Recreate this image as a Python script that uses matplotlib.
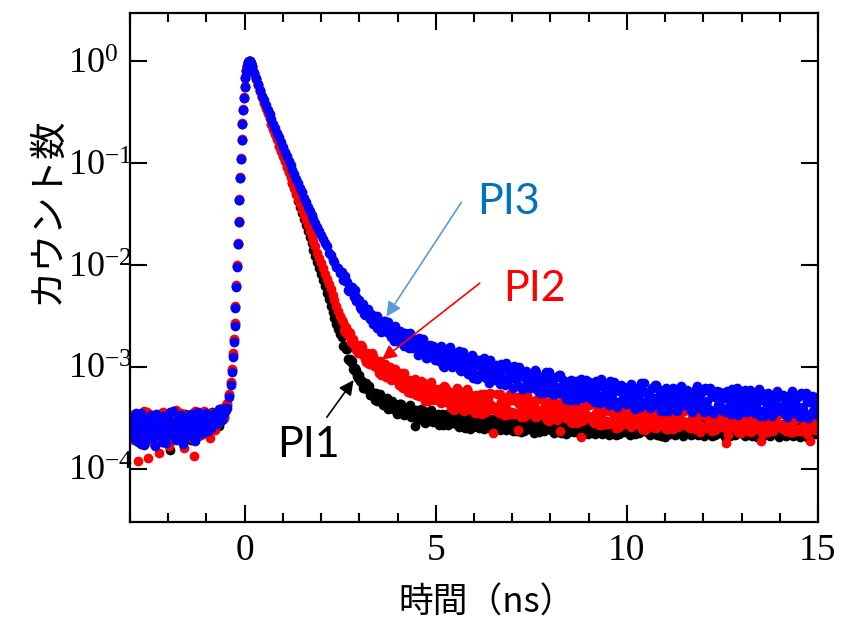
import numpy as np
import matplotlib
matplotlib.use("Agg")
import matplotlib.pyplot as plt
from matplotlib.ticker import NullLocator, MultipleLocator

plt.rcParams['mathtext.fontset'] = 'custom'
plt.rcParams['mathtext.rm'] = 'Liberation Serif'
plt.rcParams['mathtext.it'] = 'Liberation Serif:italic'
plt.rcParams['font.family'] = ['Liberation Serif', 'DejaVu Sans']

# ---------------- data (log10 of normalised counts) ----------------
# time bins (ns); two interleaved sets of readings in the noisy regions
t_base = np.round(np.arange(-3.0, -0.499, 0.05), 3)          # 51 bins
t_base2 = np.round(np.arange(-2.975, -0.51, 0.05), 3)        # 50 bins
t_rise = [-0.45, -0.40, -0.36, -0.33, -0.30, -0.28, -0.26, -0.24, -0.22, -0.20,
          -0.18, -0.16, -0.14, -0.12, -0.10, -0.08, -0.06, -0.04, -0.02, 0.00,
          0.02, 0.04, 0.06, 0.08, 0.10, 0.12, 0.14, 0.16, 0.18, 0.20]
t_decay = np.round(np.arange(0.25, 2.501, 0.05), 3)          # 46 bins
t_tail = np.round(np.arange(2.55, 15.001, 0.05), 3)          # 250 bins
t_tail2 = np.round(np.arange(2.575, 15.03, 0.05), 3)         # 250 bins

# ---- PI1 (black) ----
pi1_base = [-3.57, -3.65, -3.49, -3.70, -3.58, -3.52, -3.76, -3.61, -3.54, -3.66,
            -3.47, -3.63, -3.59, -3.71, -3.50, -3.64, -3.56, -3.45, -3.68, -3.60,
            -3.53, -3.82, -3.58, -3.48, -3.66, -3.62, -3.51, -3.69, -3.57, -3.46,
            -3.63, -3.55, -3.72, -3.59, -3.49, -3.61, -3.67, -3.53, -3.47, -3.58,
            -3.64, -3.50, -3.56, -3.44, -3.60, -3.52, -3.47, -3.54, -3.45, -3.49,
            -3.41]
pi1_base2 = [-3.61, -3.53, -3.67, -3.48, -3.62, -3.57, -3.72, -3.51, -3.64, -3.55,
             -3.69, -3.58, -3.50, -3.66, -3.54, -3.61, -3.47, -3.74, -3.56, -3.63,
             -3.52, -3.59, -3.67, -3.49, -3.61, -3.55, -3.70, -3.53, -3.60, -3.64,
             -3.51, -3.58, -3.46, -3.63, -3.55, -3.68, -3.50, -3.59, -3.62, -3.48,
             -3.57, -3.52, -3.61, -3.46, -3.55, -3.50, -3.58, -3.45, -3.51, -3.43]
pi1_rise = [-3.38, -3.28, -3.16, -3.03, -2.88, -2.74, -2.58, -2.41, -2.21, -2.01,
            -1.80, -1.58, -1.36, -1.15, -0.96, -0.78, -0.62, -0.48, -0.36, -0.26,
            -0.17, -0.10, -0.05, -0.02, -0.01, 0.00, 0.00, -0.02, -0.05, -0.08]
pi1_decay = [-0.12, -0.18, -0.24, -0.30, -0.35, -0.41, -0.46, -0.51, -0.56, -0.62,
             -0.67, -0.72, -0.77, -0.83, -0.88, -0.93, -0.98, -1.04, -1.09, -1.14,
             -1.20, -1.25, -1.31, -1.37, -1.43, -1.49, -1.55, -1.61, -1.67, -1.73,
             -1.79, -1.85, -1.91, -1.97, -2.03, -2.09, -2.15, -2.21, -2.28, -2.34,
             -2.40, -2.46, -2.52, -2.58, -2.63, -2.68]
pi1_tail = [-2.71, -2.80, -2.83, -2.92, -2.92, -2.94, -3.03, -3.05, -3.09, -3.08,
            -3.13, -3.21, -3.16, -3.22, -3.19, -3.28, -3.27, -3.33, -3.28, -3.33,
            -3.27, -3.33, -3.38, -3.32, -3.41, -3.36, -3.34, -3.41, -3.39, -3.44,
            -3.43, -3.37, -3.46, -3.42, -3.44, -3.41, -3.49, -3.43, -3.58, -3.50,
            -3.50, -3.45, -3.47, -3.43, -3.50, -3.53, -3.45, -3.47, -3.50, -3.47,
            -3.46, -3.53, -3.50, -3.57, -3.49, -3.46, -3.56, -3.52, -3.54, -3.48,
            -3.52, -3.59, -3.48, -3.54, -3.47, -3.58, -3.54, -3.61, -3.51, -3.56,
            -3.49, -3.56, -3.59, -3.51, -3.61, -3.54, -3.50, -3.57, -3.54, -3.59,
            -3.58, -3.50, -3.61, -3.55, -3.57, -3.52, -3.62, -3.53, -3.49, -3.60,
            -3.62, -3.63, -3.57, -3.51, -3.60, -3.63, -3.52, -3.55, -3.58, -3.53,
            -3.54, -3.61, -3.57, -3.64, -3.56, -3.52, -3.62, -3.58, -3.59, -3.53,
            -3.58, -3.65, -3.54, -3.60, -3.53, -3.63, -3.59, -3.66, -3.56, -3.61,
            -3.53, -3.60, -3.63, -3.55, -3.65, -3.58, -3.54, -3.61, -3.58, -3.63,
            -3.62, -3.54, -3.65, -3.59, -3.61, -3.56, -3.66, -3.57, -3.53, -3.64,
            -3.65, -3.57, -3.60, -3.54, -3.63, -3.66, -3.55, -3.58, -3.61, -3.56,
            -3.56, -3.63, -3.59, -3.66, -3.58, -3.54, -3.64, -3.60, -3.61, -3.55,
            -3.60, -3.67, -3.56, -3.62, -3.55, -3.65, -3.61, -3.68, -3.58, -3.69,
            -3.55, -3.62, -3.65, -3.57, -3.67, -3.60, -3.56, -3.63, -3.60, -3.65,
            -3.63, -3.55, -3.66, -3.60, -3.62, -3.57, -3.67, -3.58, -3.54, -3.65,
            -3.66, -3.58, -3.61, -3.55, -3.64, -3.67, -3.56, -3.59, -3.62, -3.57,
            -3.58, -3.65, -3.61, -3.68, -3.60, -3.56, -3.66, -3.62, -3.63, -3.57,
            -3.61, -3.68, -3.57, -3.63, -3.56, -3.66, -3.62, -3.69, -3.59, -3.64,
            -3.56, -3.63, -3.66, -3.58, -3.68, -3.61, -3.57, -3.64, -3.61, -3.66,
            -3.64, -3.56, -3.67, -3.61, -3.63, -3.58, -3.68, -3.59, -3.55, -3.66,
            -3.67, -3.59, -3.62, -3.56, -3.65, -3.68, -3.57, -3.60, -3.63, -3.58]
pi1_tail2 = [-2.80, -2.80, -2.83, -2.93, -2.95, -3.02, -3.01, -3.03, -3.11, -3.14,
             -3.16, -3.21, -3.16, -3.21, -3.28, -3.25, -3.29, -3.26, -3.34, -3.29,
             -3.31, -3.38, -3.36, -3.31, -3.40, -3.35, -3.41, -3.40, -3.46, -3.37,
             -3.37, -3.42, -3.47, -3.41, -3.45, -3.38, -3.48, -3.46, -3.42, -3.52,
             -3.50, -3.41, -3.46, -3.55, -3.45, -3.51, -3.42, -3.54, -3.48, -3.53,
             -3.57, -3.49, -3.46, -3.54, -3.51, -3.57, -3.48, -3.46, -3.54, -3.56,
             -3.56, -3.58, -3.48, -3.52, -3.60, -3.53, -3.57, -3.50, -3.59, -3.51,
             -3.52, -3.60, -3.56, -3.49, -3.59, -3.51, -3.57, -3.55, -3.62, -3.50,
             -3.51, -3.56, -3.62, -3.53, -3.58, -3.49, -3.60, -3.57, -3.53, -3.63,
             -3.61, -3.52, -3.56, -3.64, -3.54, -3.59, -3.50, -3.61, -3.55, -3.60,
             -3.65, -3.56, -3.53, -3.61, -3.58, -3.63, -3.55, -3.52, -3.60, -3.62,
             -3.61, -3.63, -3.53, -3.57, -3.65, -3.58, -3.62, -3.55, -3.64, -3.56,
             -3.56, -3.64, -3.60, -3.53, -3.63, -3.55, -3.61, -3.59, -3.66, -3.54,
             -3.55, -3.60, -3.66, -3.57, -3.62, -3.53, -3.64, -3.61, -3.57, -3.67,
             -3.64, -3.55, -3.59, -3.67, -3.57, -3.62, -3.53, -3.64, -3.58, -3.63,
             -3.67, -3.58, -3.55, -3.63, -3.60, -3.65, -3.57, -3.54, -3.62, -3.64,
             -3.63, -3.65, -3.55, -3.59, -3.67, -3.60, -3.64, -3.57, -3.66, -3.58,
             -3.58, -3.66, -3.62, -3.55, -3.65, -3.57, -3.63, -3.61, -3.68, -3.56,
             -3.56, -3.61, -3.67, -3.58, -3.63, -3.54, -3.65, -3.62, -3.58, -3.68,
             -3.65, -3.56, -3.60, -3.68, -3.58, -3.63, -3.54, -3.65, -3.59, -3.64,
             -3.69, -3.60, -3.57, -3.65, -3.62, -3.67, -3.59, -3.56, -3.64, -3.66,
             -3.64, -3.66, -3.56, -3.60, -3.68, -3.61, -3.65, -3.58, -3.67, -3.59,
             -3.59, -3.67, -3.63, -3.56, -3.66, -3.58, -3.64, -3.62, -3.69, -3.57,
             -3.57, -3.62, -3.68, -3.59, -3.64, -3.55, -3.66, -3.63, -3.59, -3.69,
             -3.66, -3.57, -3.61, -3.69, -3.59, -3.64, -3.55, -3.66, -3.60, -3.65]

# ---- PI2 (red) ----
pi2_base = [-3.60, -3.47, -3.72, -3.55, -3.92, -3.63, -3.50, -3.68, -3.57, -3.44,
            -3.66, -3.58, -3.75, -3.49, -3.62, -3.85, -3.54, -3.70, -3.46, -3.61,
            -3.56, -3.73, -3.50, -3.64, -3.42, -3.59, -3.68, -3.53, -3.80, -3.57,
            -3.48, -3.65, -3.55, -3.71, -3.43, -3.60, -3.52, -3.67, -3.58, -3.45,
            -3.62, -3.53, -3.70, -3.49, -3.57, -3.44, -3.55, -3.48, -3.40, -3.50,
            -3.38]
pi2_base2 = [-3.55, -3.68, -3.46, -3.61, -3.52, -3.74, -3.57, -3.43, -3.66, -3.90,
             -3.59, -3.47, -3.63, -3.54, -3.71, -3.50, -3.60, -3.44, -3.65, -3.56,
             -3.78, -3.52, -3.62, -3.48, -3.58, -3.69, -3.45, -3.61, -3.53, -3.66,
             -3.57, -3.47, -3.62, -3.88, -3.55, -3.49, -3.64, -3.52, -3.43, -3.60,
             -3.51, -3.58, -3.45, -3.54, -3.62, -3.47, -3.52, -3.42, -3.47, -3.39]
pi2_rise = [-3.36, -3.27, -3.15, -3.02, -2.87, -2.73, -2.57, -2.40, -2.20, -2.00,
            -1.79, -1.57, -1.35, -1.14, -0.95, -0.77, -0.61, -0.47, -0.35, -0.25,
            -0.16, -0.09, -0.05, -0.02, -0.01, 0.00, 0.00, -0.02, -0.05, -0.08]
pi2_decay = [-0.12, -0.18, -0.24, -0.30, -0.35, -0.41, -0.46, -0.51, -0.56, -0.62,
             -0.67, -0.72, -0.77, -0.83, -0.88, -0.93, -0.98, -1.04, -1.09, -1.14,
             -1.19, -1.25, -1.30, -1.35, -1.40, -1.46, -1.51, -1.56, -1.61, -1.67,
             -1.72, -1.77, -1.82, -1.88, -1.93, -1.98, -2.03, -2.09, -2.14, -2.19,
             -2.24, -2.30, -2.35, -2.40, -2.45, -2.50]
pi2_tail = [-2.54, -2.64, -2.61, -2.69, -2.67, -2.77, -2.77, -2.84, -2.79, -2.85,
            -2.79, -2.88, -2.92, -2.87, -2.97, -2.92, -2.89, -2.97, -2.96, -3.02,
            -2.94, -3.03, -3.01, -3.10, -3.03, -3.00, -3.12, -3.09, -3.13, -3.06,
            -3.16, -3.06, -3.21, -3.14, -3.18, -3.13, -3.26, -3.16, -3.12, -3.27,
            -3.29, -3.19, -3.23, -3.16, -3.28, -3.34, -3.19, -3.23, -3.28, -3.22,
            -3.25, -3.35, -3.21, -3.30, -3.20, -3.34, -3.29, -3.40, -3.27, -3.34,
            -3.21, -3.33, -3.39, -3.26, -3.43, -3.31, -3.25, -3.37, -3.33, -3.40,
            -3.28, -3.39, -3.34, -3.46, -3.33, -3.27, -3.42, -3.36, -3.38, -3.65,
            -3.40, -3.27, -3.45, -3.35, -3.38, -3.31, -3.47, -3.34, -3.27, -3.44,
            -3.46, -3.34, -3.62, -3.30, -3.43, -3.49, -3.32, -3.36, -3.42, -3.34,
            -3.38, -3.49, -3.32, -3.43, -3.31, -3.47, -3.40, -3.52, -3.38, -3.45,
            -3.32, -3.43, -3.49, -3.37, -3.63, -3.41, -3.35, -3.46, -3.43, -3.50,
            -3.37, -3.49, -3.43, -3.55, -3.41, -3.69, -3.51, -3.45, -3.48, -3.38,
            -3.49, -3.36, -3.55, -3.45, -3.48, -3.41, -3.57, -3.43, -3.37, -3.54,
            -3.56, -3.44, -3.48, -3.39, -3.53, -3.59, -3.41, -3.45, -3.51, -3.43,
            -3.48, -3.59, -3.42, -3.52, -3.40, -3.56, -3.49, -3.61, -3.46, -3.53,
            -3.40, -3.51, -3.57, -3.44, -3.60, -3.48, -3.42, -3.53, -3.49, -3.56,
            -3.44, -3.55, -3.50, -3.61, -3.48, -3.42, -3.57, -3.51, -3.53, -3.43,
            -3.55, -3.42, -3.60, -3.50, -3.53, -3.46, -3.61, -3.64, -3.41, -3.58,
            -3.60, -3.48, -3.52, -3.43, -3.56, -3.62, -3.45, -3.49, -3.54, -3.46,
            -3.51, -3.75, -3.67, -3.55, -3.43, -3.59, -3.52, -3.64, -3.49, -3.56,
            -3.44, -3.55, -3.61, -3.48, -3.64, -3.52, -3.46, -3.57, -3.53, -3.73,
            -3.47, -3.58, -3.53, -3.64, -3.51, -3.45, -3.60, -3.54, -3.56, -3.46,
            -3.58, -3.45, -3.63, -3.53, -3.56, -3.49, -3.64, -3.51, -3.44, -3.61,
            -3.63, -3.51, -3.55, -3.46, -3.59, -3.73, -3.48, -3.52, -3.57, -3.49]
pi2_tail2 = [-2.56, -2.66, -2.67, -2.66, -2.76, -2.73, -2.80, -2.80, -2.87, -2.81,
             -2.81, -2.87, -2.95, -2.88, -2.94, -2.87, -2.99, -2.97, -2.95, -3.06,
             -3.08, -2.98, -2.97, -3.08, -3.05, -3.13, -3.05, -3.02, -3.13, -3.18,
             -3.15, -3.20, -3.06, -3.13, -3.25, -3.16, -3.23, -3.14, -3.28, -3.18,
             -3.29, -3.14, -3.22, -3.34, -3.20, -3.27, -3.15, -3.33, -3.24, -3.32,
             -3.23, -3.36, -3.29, -3.19, -3.35, -3.24, -3.34, -3.29, -3.42, -3.24,
             -3.23, -3.31, -3.41, -3.29, -3.37, -3.22, -3.41, -3.35, -3.29, -3.45,
             -3.45, -3.32, -3.27, -3.40, -3.35, -3.44, -3.31, -3.26, -3.39, -3.42,
             -3.39, -3.44, -3.27, -3.34, -3.47, -3.36, -3.42, -3.31, -3.46, -3.33,
             -3.45, -3.30, -3.37, -3.49, -3.34, -3.41, -3.28, -3.46, -3.36, -3.45,
             -3.36, -3.49, -3.42, -3.31, -3.47, -3.35, -3.45, -3.41, -3.53, -3.34,
             -3.35, -3.42, -3.52, -3.39, -3.47, -3.32, -3.50, -3.44, -3.38, -3.54,
             -3.55, -3.42, -3.37, -3.50, -3.44, -3.53, -3.40, -3.36, -3.48, -3.51,
             -3.49, -3.54, -3.37, -3.44, -3.57, -3.46, -3.52, -3.41, -3.56, -3.43,
             -3.55, -3.40, -3.47, -3.60, -3.43, -3.51, -3.38, -3.56, -3.45, -3.54,
             -3.45, -3.58, -3.51, -3.40, -3.56, -3.43, -3.54, -3.49, -3.62, -3.42,
             -3.42, -3.49, -3.59, -3.46, -3.54, -3.39, -3.57, -3.51, -3.45, -3.61,
             -3.61, -3.48, -3.43, -3.56, -3.50, -3.59, -3.45, -3.40, -3.53, -3.57,
             -3.54, -3.59, -3.42, -3.49, -3.61, -3.50, -3.57, -3.45, -3.60, -3.47,
             -3.58, -3.43, -3.50, -3.63, -3.46, -3.54, -3.41, -3.59, -3.48, -3.57,
             -3.48, -3.61, -3.54, -3.43, -3.59, -3.46, -3.57, -3.52, -3.65, -3.45,
             -3.46, -3.53, -3.63, -3.50, -3.58, -3.43, -3.61, -3.55, -3.48, -3.65,
             -3.65, -3.51, -3.46, -3.59, -3.53, -3.63, -3.48, -3.43, -3.56, -3.60,
             -3.57, -3.62, -3.45, -3.52, -3.64, -3.53, -3.60, -3.48, -3.63, -3.50,
             -3.61, -3.46, -3.53, -3.66, -3.49, -3.57, -3.44, -3.62, -3.51, -3.60]

# ---- PI3 (blue) ----
pi3_base = [-3.52, -3.68, -3.60, -3.45, -3.74, -3.58, -3.66, -3.50, -3.62, -3.71,
            -3.55, -3.47, -3.64, -3.78, -3.57, -3.49, -3.69, -3.61, -3.53, -3.75,
            -3.59, -3.44, -3.66, -3.56, -3.72, -3.51, -3.63, -3.48, -3.70, -3.58,
            -3.54, -3.67, -3.46, -3.62, -3.73, -3.55, -3.60, -3.50, -3.65, -3.57,
            -3.45, -3.63, -3.52, -3.58, -3.47, -3.56, -3.50, -3.43, -3.52, -3.46,
            -3.42]
pi3_base2 = [-3.62, -3.49, -3.71, -3.56, -3.66, -3.45, -3.59, -3.77, -3.53, -3.64,
             -3.50, -3.70, -3.58, -3.46, -3.63, -3.55, -3.74, -3.48, -3.61, -3.67,
             -3.52, -3.60, -3.43, -3.69, -3.57, -3.64, -3.47, -3.76, -3.54, -3.62,
             -3.49, -3.58, -3.68, -3.51, -3.60, -3.44, -3.66, -3.55, -3.48, -3.63,
             -3.56, -3.47, -3.60, -3.51, -3.45, -3.55, -3.41, -3.49, -3.44, -3.40]
pi3_rise = [-3.40, -3.30, -3.18, -3.05, -2.90, -2.76, -2.60, -2.42, -2.22, -2.02,
            -1.80, -1.58, -1.36, -1.15, -0.96, -0.78, -0.62, -0.48, -0.36, -0.26,
            -0.17, -0.10, -0.05, -0.02, -0.01, 0.00, 0.00, -0.02, -0.05, -0.08]
pi3_decay = [-0.12, -0.17, -0.23, -0.29, -0.34, -0.38, -0.43, -0.48, -0.52, -0.57,
             -0.62, -0.66, -0.71, -0.75, -0.80, -0.84, -0.89, -0.93, -0.98, -1.02,
             -1.07, -1.11, -1.16, -1.20, -1.25, -1.29, -1.34, -1.38, -1.43, -1.47,
             -1.51, -1.55, -1.59, -1.63, -1.67, -1.71, -1.75, -1.79, -1.82, -1.88,
             -1.90, -1.95, -1.97, -2.02, -2.03, -2.08]
pi3_tail = [-2.07, -2.15, -2.16, -2.25, -2.22, -2.22, -2.32, -2.32, -2.36, -2.35,
            -2.43, -2.38, -2.49, -2.46, -2.50, -2.48, -2.58, -2.52, -2.50, -2.61,
            -2.56, -2.65, -2.55, -2.64, -2.56, -2.68, -2.64, -2.75, -2.65, -2.71,
            -2.76, -2.68, -2.72, -2.67, -2.77, -2.82, -2.71, -2.75, -2.80, -2.75,
            -2.72, -2.82, -2.86, -2.77, -2.91, -2.82, -2.79, -2.88, -2.85, -2.92,
            -2.82, -2.93, -2.88, -2.99, -2.88, -2.83, -2.97, -2.93, -2.95, -2.87,
            -2.98, -2.85, -3.04, -2.94, -2.98, -2.91, -3.07, -2.95, -2.88, -3.07,
            -2.98, -3.11, -2.93, -3.04, -2.91, -3.09, -3.02, -3.16, -2.99, -3.09,
            -3.13, -3.01, -3.06, -2.97, -3.12, -3.18, -3.01, -3.04, -3.11, -3.03,
            -2.99, -3.11, -3.18, -3.05, -3.22, -3.10, -3.04, -3.16, -3.12, -3.19,
            -3.18, -3.03, -3.23, -3.13, -3.16, -3.10, -3.26, -3.11, -3.05, -3.24,
            -3.16, -3.28, -3.10, -3.21, -3.08, -3.25, -3.18, -3.32, -3.15, -3.24,
            -3.14, -3.26, -3.20, -3.33, -3.18, -3.12, -3.28, -3.22, -3.25, -3.15,
            -3.32, -3.19, -3.24, -3.14, -3.30, -3.36, -3.18, -3.21, -3.28, -3.20,
            -3.14, -3.27, -3.34, -3.20, -3.39, -3.24, -3.18, -3.31, -3.27, -3.35,
            -3.33, -3.17, -3.38, -3.26, -3.30, -3.22, -3.39, -3.24, -3.16, -3.37,
            -3.27, -3.40, -3.21, -3.33, -3.18, -3.37, -3.29, -3.43, -3.25, -3.34,
            -3.40, -3.26, -3.31, -3.21, -3.36, -3.43, -3.23, -3.27, -3.34, -3.24,
            -3.24, -3.37, -3.31, -3.44, -3.28, -3.22, -3.39, -3.32, -3.35, -3.23,
            -3.21, -3.34, -3.41, -3.26, -3.45, -3.30, -3.24, -3.37, -3.32, -3.40,
            -3.31, -3.44, -3.25, -3.37, -3.22, -3.41, -3.33, -3.47, -3.29, -3.38,
            -3.39, -3.23, -3.44, -3.32, -3.36, -3.28, -3.45, -3.30, -3.22, -3.43,
            -3.45, -3.31, -3.36, -3.26, -3.41, -3.48, -3.28, -3.32, -3.39, -3.29,
            -3.29, -3.42, -3.36, -3.49, -3.33, -3.27, -3.44, -3.37, -3.40, -3.28,
            -3.26, -3.39, -3.46, -3.31, -3.50, -3.35, -3.29, -3.42, -3.37, -3.45]
pi3_tail2 = [-2.15, -2.11, -2.17, -2.26, -2.22, -2.28, -2.25, -2.36, -2.35, -2.41,
             -2.40, -2.48, -2.47, -2.43, -2.53, -2.49, -2.55, -2.55, -2.62, -2.54,
             -2.66, -2.58, -2.55, -2.66, -2.63, -2.71, -2.62, -2.60, -2.70, -2.74,
             -2.65, -2.71, -2.80, -2.70, -2.78, -2.67, -2.82, -2.79, -2.74, -2.88,
             -2.82, -2.87, -2.73, -2.80, -2.91, -2.82, -2.89, -2.80, -2.93, -2.83,
             -2.94, -2.80, -2.88, -3.00, -2.86, -2.94, -2.81, -3.00, -2.90, -2.99,
             -2.90, -3.03, -2.97, -2.86, -3.03, -2.91, -3.02, -2.98, -3.11, -2.92,
             -3.12, -2.97, -2.94, -3.07, -3.02, -3.11, -2.98, -2.93, -3.07, -3.11,
             -2.98, -3.05, -3.17, -3.02, -3.12, -2.96, -3.15, -3.10, -3.03, -3.21,
             -3.12, -3.18, -3.00, -3.07, -3.22, -3.10, -3.17, -3.06, -3.21, -3.09,
             -3.20, -3.05, -3.13, -3.26, -3.10, -3.18, -3.05, -3.24, -3.13, -3.23,
             -3.13, -3.27, -3.20, -3.08, -3.26, -3.13, -3.24, -3.20, -3.33, -3.13,
             -3.33, -3.18, -3.14, -3.28, -3.22, -3.31, -3.18, -3.13, -3.26, -3.30,
             -3.16, -3.24, -3.35, -3.20, -3.29, -3.12, -3.33, -3.26, -3.19, -3.38,
             -3.30, -3.35, -3.15, -3.23, -3.37, -3.24, -3.33, -3.20, -3.37, -3.23,
             -3.36, -3.19, -3.26, -3.41, -3.22, -3.32, -3.16, -3.37, -3.25, -3.34,
             -3.25, -3.39, -3.31, -3.18, -3.37, -3.22, -3.34, -3.29, -3.43, -3.21,
             -3.43, -3.27, -3.22, -3.36, -3.30, -3.40, -3.24, -3.19, -3.34, -3.38,
             -3.23, -3.31, -3.42, -3.27, -3.36, -3.19, -3.40, -3.33, -3.25, -3.44,
             -3.36, -3.41, -3.21, -3.29, -3.43, -3.30, -3.38, -3.25, -3.42, -3.28,
             -3.41, -3.24, -3.31, -3.46, -3.27, -3.37, -3.21, -3.42, -3.30, -3.39,
             -3.30, -3.44, -3.36, -3.23, -3.42, -3.27, -3.39, -3.34, -3.48, -3.26,
             -3.48, -3.32, -3.27, -3.41, -3.35, -3.45, -3.29, -3.24, -3.39, -3.43,
             -3.28, -3.36, -3.47, -3.32, -3.41, -3.24, -3.45, -3.38, -3.30, -3.49,
             -3.41, -3.46, -3.26, -3.34, -3.48, -3.35, -3.43, -3.30, -3.47, -3.33]

series_names = ["PI1", "PI2", "PI3"]
series_colors = ["#000000", "#ff0000", "#0000ff"]
label_colors = ["#000000", "#ff0000", "#0070c0"]
arrow_colors = ["#000000", "#ff0000", "#5b9bd5"]

y_ticks = [1e0, 1e-1, 1e-2, 1e-3, 1e-4]
y_ticklabels = [r"$\mathregular{10^{0}}$", r"$\mathregular{10^{-1}}$", r"$\mathregular{10^{-2}}$",
                r"$\mathregular{10^{-3}}$", r"$\mathregular{10^{-4}}$"]
x_ticks = [0, 5, 10, 15]

t_all = np.concatenate([t_base, t_base2, t_rise, t_decay, t_tail, t_tail2])
series = [pi1_base + pi1_base2 + pi1_rise + pi1_decay + pi1_tail + pi1_tail2,
          pi2_base + pi2_base2 + pi2_rise + pi2_decay + pi2_tail + pi2_tail2,
          pi3_base + pi3_base2 + pi3_rise + pi3_decay + pi3_tail + pi3_tail2]

# ---------------- figure ----------------
fig = plt.figure(figsize=(8.43, 6.28), dpi=100)
ax = fig.add_axes([130 / 843, 1 - 522 / 628, 688 / 843, 509 / 628])

for vals, col in zip(series, series_colors):
    ax.plot(t_all, 10.0 ** np.asarray(vals), linestyle="none", marker="o",
            markersize=7.0, markeredgewidth=0, color=col)

ax.set_yscale("log")
ax.set_xlim(-3, 15)
ax.set_ylim(3.0e-5, 2.95)

ax.set_yticks(y_ticks)
ax.set_yticklabels(y_ticklabels)
ax.yaxis.set_minor_locator(NullLocator())
ax.set_xticks(x_ticks)
ax.set_xticklabels([str(v) for v in x_ticks])
ax.xaxis.set_minor_locator(MultipleLocator(1))

for s in ax.spines.values():
    s.set_linewidth(1.6)

ax.tick_params(axis="both", which="major", direction="in", length=12, width=1.5,
               top=True, right=True)
ax.tick_params(axis="both", which="minor", direction="in", length=6.5, width=1.5,
               top=True, right=True)
ax.tick_params(axis="y", which="major", pad=45, labelsize=26)
ax.tick_params(axis="x", which="major", pad=8, labelsize=27)
for lab in ax.get_yticklabels():
    lab.set_horizontalalignment("left")
    lab.set_fontfamily("Liberation Serif")
for lab in ax.get_xticklabels():
    lab.set_fontfamily("Liberation Serif")

# axis titles
cjk = ["Noto Sans CJK JP", "DejaVu Sans"]
fig.text(47 / 843, 1 - 210 / 628, "カウント数", rotation=90, ha="center", va="center",
         fontsize=27, family=cjk)
fig.text(487 / 843, 1 - 603 / 628, "時間（ns）", ha="center", va="center",
         fontsize=25, family=cjk)

# annotations: (text pos), (arrow tail), (arrow head) in data coords
ann_text = [(1.68, 1.7e-4), (7.57, 5.8e-3), (6.91, 0.041)]
ann_tail = [(2.15, 3.2e-4), (6.15, 6.6e-3), (5.67, 0.041)]
ann_head = [(2.85, 7.4e-4), (3.59, 1.17e-3), (3.71, 3.1e-3)]
for name, tc, ac, tp, at, ah in zip(series_names, label_colors, arrow_colors,
                                    ann_text, ann_tail, ann_head):
    ax.text(tp[0], tp[1], name, color=tc, fontsize=31, family=["Lato", "DejaVu Sans"],
            ha="center", va="center")
    ax.annotate("", xy=ah, xytext=at,
                arrowprops=dict(arrowstyle="-|>", color=ac, lw=1.2,
                                mutation_scale=22, shrinkA=0, shrinkB=0))

fig.savefig("out.png", dpi=100)
